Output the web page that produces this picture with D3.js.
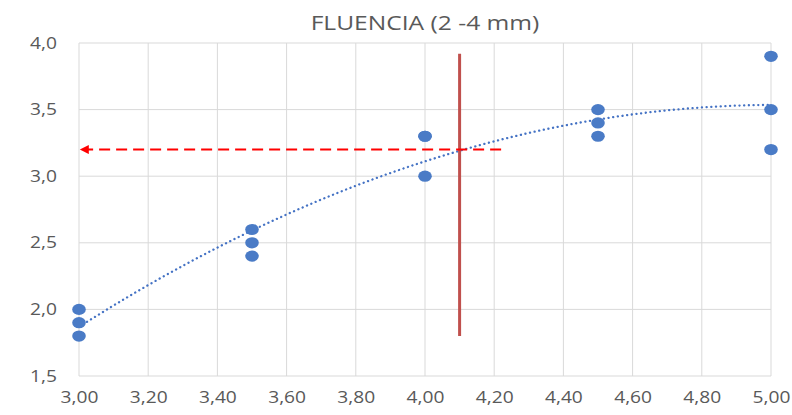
<!DOCTYPE html>
<html>
<head>
<meta charset="utf-8">
<script src="https://cdn.jsdelivr.net/npm/d3@7"></script>
<style>
  html, body { margin: 0; padding: 0; background: #ffffff; }
  svg { display: block; }
  text { font-family: "Open Sans", "Liberation Sans", sans-serif; }
</style>
</head>
<body>
<svg id="chart" width="792" height="415"></svg>
<script>
// ---- data ----
const chartTitle = "FLUENCIA (2 -4 mm)";
const xValues = [3.0, 3.0, 3.0, 3.5, 3.5, 3.5, 4.0, 4.0, 4.0, 4.5, 4.5, 4.5, 5.0, 5.0, 5.0];
const yValues = [2.0, 1.9, 1.8, 2.6, 2.5, 2.4, 3.3, 3.3, 3.0, 3.5, 3.4, 3.3, 3.9, 3.5, 3.2];
const xTicks = [3.0, 3.2, 3.4, 3.6, 3.8, 4.0, 4.2, 4.4, 4.6, 4.8, 5.0];
const yTicks = [1.5, 2.0, 2.5, 3.0, 3.5, 4.0];
const markerLineX = [4.1, 4.1];
const markerLineY = [1.8, 3.92];
const arrowX = [4.22, 3.0];
const arrowY = [3.2, 3.2];

// ---- layout ----
const svg = d3.select("#chart");
const pLeft = 79, pRight = 771, pTop = 43, pBottom = 376;
const stretch = 1.2; // reference text is horizontally stretched
const x = d3.scaleLinear().domain([3, 5]).range([pLeft, pRight]);
const y = d3.scaleLinear().domain([1.5, 4]).range([pBottom, pTop]);
const fmtX = v => d3.format(".2f")(v).replace(".", ",");
const fmtY = v => d3.format(".1f")(v).replace(".", ",");

// gridlines
svg.append("g").selectAll("line").data(xTicks).join("line")
  .attr("x1", d => x(d)).attr("x2", d => x(d))
  .attr("y1", pTop).attr("y2", pBottom)
  .attr("stroke", "#d9d9d9").attr("stroke-width", 1);
svg.append("g").selectAll("line").data(yTicks).join("line")
  .attr("x1", pLeft).attr("x2", pRight)
  .attr("y1", d => y(d)).attr("y2", d => y(d))
  .attr("stroke", "#d9d9d9").attr("stroke-width", 1);

// axes (labels only)
const xAxis = svg.append("g").attr("transform", `translate(0,${pBottom})`)
  .call(d3.axisBottom(x).tickValues(xTicks).tickFormat(fmtX).tickSize(0).tickPadding(16));
xAxis.select(".domain").remove();
xAxis.selectAll("text").attr("fill", "#595959").attr("font-size", 16)
  .attr("transform", `scale(${stretch},1)`);

const yAxis = svg.append("g").attr("transform", `translate(${pLeft},0)`)
  .call(d3.axisLeft(y).tickValues(yTicks).tickFormat(fmtY).tickSize(0).tickPadding(21));
yAxis.select(".domain").remove();
yAxis.selectAll("text").attr("fill", "#595959").attr("font-size", 16)
  .attr("x", -22 / stretch)
  .attr("transform", `scale(${stretch},1)`);

// title
svg.append("text")
  .attr("transform", `translate(425,30) scale(${stretch},1)`)
  .attr("text-anchor", "middle")
  .attr("fill", "#595959").attr("font-size", 20.5).text(chartTitle);

// quadratic trendline (least squares fit of the data)
function polyFit2(xs, ys) {
  const n = xs.length;
  let s = [0,0,0,0,0], t = [0,0,0];
  for (let i = 0; i < n; i++) {
    const xi = xs[i], yi = ys[i];
    for (let k = 0; k < 5; k++) s[k] += Math.pow(xi, k);
    for (let k = 0; k < 3; k++) t[k] += Math.pow(xi, k) * yi;
  }
  const A = [[s[0], s[1], s[2]], [s[1], s[2], s[3]], [s[2], s[3], s[4]]];
  const b = t.slice();
  for (let i = 0; i < 3; i++) {
    for (let j = i + 1; j < 3; j++) {
      const f = A[j][i] / A[i][i];
      for (let k = i; k < 3; k++) A[j][k] -= f * A[i][k];
      b[j] -= f * b[i];
    }
  }
  const c = [0,0,0];
  for (let i = 2; i >= 0; i--) {
    let sum = b[i];
    for (let k = i + 1; k < 3; k++) sum -= A[i][k] * c[k];
    c[i] = sum / A[i][i];
  }
  return c;
}
const coef = polyFit2(xValues, yValues);
const trendXs = d3.range(3, 5.0001, 0.02);
const trend = trendXs.map(v => [v, coef[0] + coef[1] * v + coef[2] * v * v]);
svg.append("path").datum(trend)
  .attr("d", d3.line().x(d => x(d[0])).y(d => y(d[1])))
  .attr("fill", "none").attr("stroke", "#4472c4").attr("stroke-width", 2.3)
  .attr("stroke-linecap", "round").attr("stroke-dasharray", "0.1 4.6");

// red vertical line
svg.append("line")
  .attr("x1", x(markerLineX[0])).attr("x2", x(markerLineX[1]))
  .attr("y1", y(markerLineY[0])).attr("y2", y(markerLineY[1]))
  .attr("stroke", "#c0504d").attr("stroke-width", 3);

// dashed red arrow
svg.append("defs").append("marker")
  .attr("id", "arrowhead").attr("viewBox", "0 0 10 10")
  .attr("refX", 2).attr("refY", 5)
  .attr("markerWidth", 5).attr("markerHeight", 4.5)
  .attr("orient", "auto")
  .append("path").attr("d", "M0,0 L10,5 L0,10 Z").attr("fill", "#ff0000");
svg.append("line")
  .attr("x1", x(arrowX[0])).attr("x2", x(arrowX[1]) + 8)
  .attr("y1", y(arrowY[0])).attr("y2", y(arrowY[1]))
  .attr("stroke", "#ff0000").attr("stroke-width", 2)
  .attr("stroke-dasharray", "11 6")
  .attr("marker-end", "url(#arrowhead)");

// points
svg.append("g").selectAll("ellipse").data(xValues.map((v, i) => [v, yValues[i]])).join("ellipse")
  .attr("cx", d => x(d[0])).attr("cy", d => y(d[1]))
  .attr("rx", 6.8).attr("ry", 5.6)
  .attr("fill", "#4a7bc6");
</script>
</body>
</html>
